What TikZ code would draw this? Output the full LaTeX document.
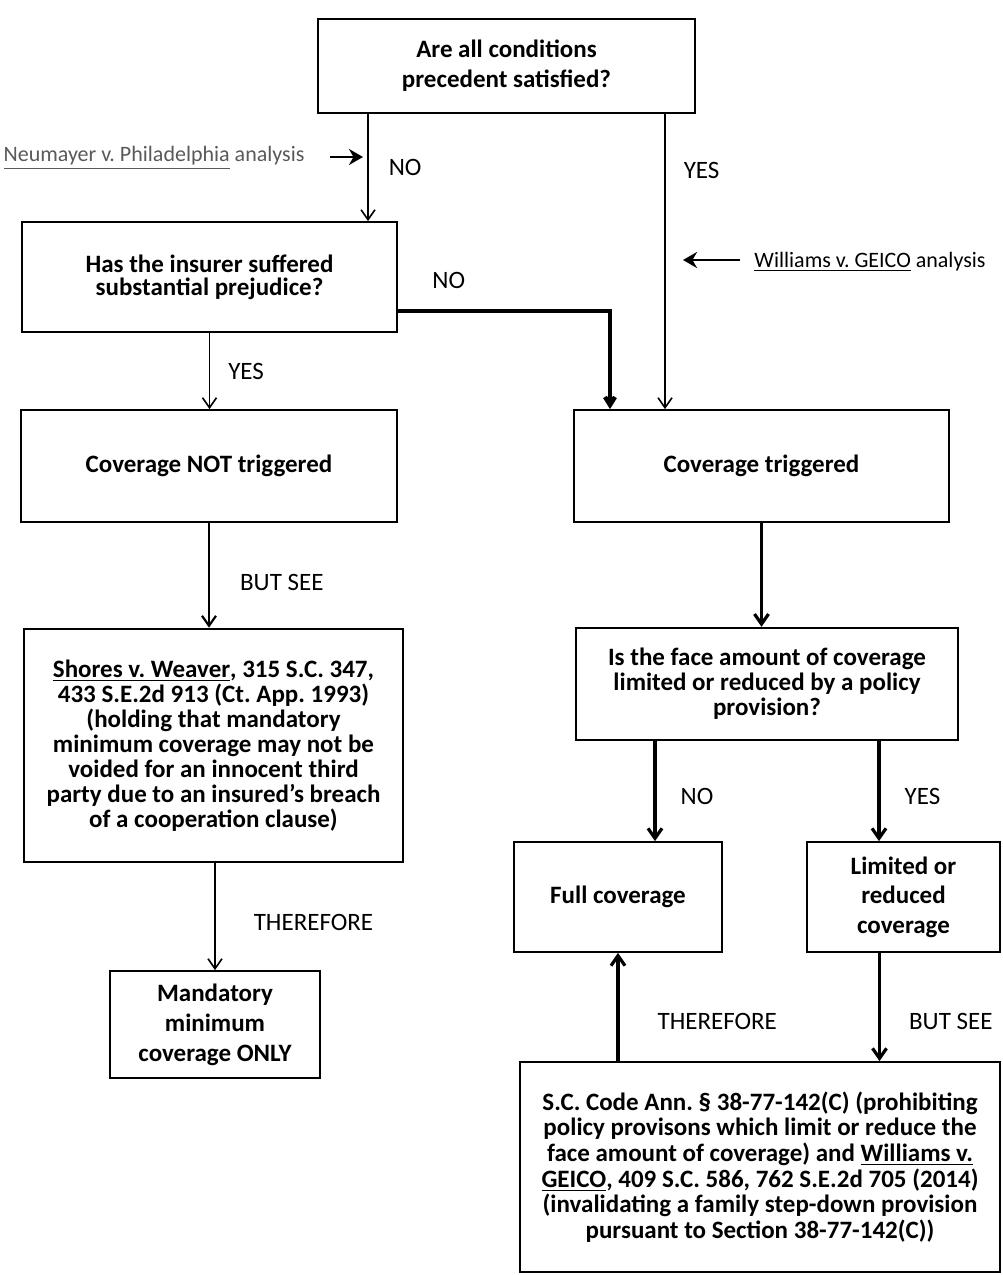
\documentclass[tikz,border=0pt]{standalone}
\usepackage{fontspec}
\setmainfont{Carlito}
\usetikzlibrary{arrows.meta}
\frenchspacing

\tikzset{
  box/.style={draw, line width=0.9pt, align=center, inner sep=2pt,
    font=\bfseries\fontsize{12.5}{13}\selectfont},
  lbl/.style={font=\fontsize{12.5}{14}\selectfont, inner sep=0pt},
  side/.style={font=\fontsize{11}{13}\selectfont, inner sep=0pt},
  thinarr/.style={line width=0.8pt, -{Straight Barb[length=5pt,width=7pt]}},
  medarr/.style={line width=1.1pt, -{Straight Barb[length=5pt,width=7pt]}},
  thickarr/.style={line width=1.6pt, -{Straight Barb[length=5pt,width=7pt]}},
  sidearr/.style={line width=1.4pt, -{Stealth[length=7pt,width=8pt]}},
}

\begin{document}
\begin{tikzpicture}[x=0.5pt, y=-0.5pt]
\useasboundingbox (0,0) rectangle (1002,1275);

% Boxes of the left column
\node[box, minimum width=188.5pt, minimum height=47pt,
  font=\bfseries\fontsize{12.5}{15}\selectfont] (cond) at (506.5,66)
  {Are all conditions\\precedent satisfied?};
\node[box, minimum width=187.5pt, minimum height=55pt,
  font=\bfseries\fontsize{12.5}{11.5}\selectfont] (prej) at (209.5,277)
  {Has the insurer suffered\\substantial prejudice?};
\node[box, minimum width=188pt, minimum height=56pt] (notrig) at (209,466)
  {Coverage NOT triggered};
\node[box, line width=1.3pt, minimum width=189.5pt, minimum height=116.5pt,
  font=\bfseries\fontsize{12.5}{12.5}\selectfont] (shores) at (213.5,745.5)
  {\underline{Shores v. Weaver}, 315 S.C. 347,\\
   433 S.E.2d 913 (Ct. App. 1993)\\
   (holding that mandatory\\
   minimum coverage may not be\\
   voided for an innocent third\\
   party due to an insured's breach\\
   of a cooperation clause)};
\node[box, minimum width=105pt, minimum height=53.5pt,
  font=\bfseries\fontsize{12.5}{15}\selectfont] (mand) at (215,1024.5)
  {Mandatory\\minimum\\coverage ONLY};

% Boxes of the right column
\node[box, minimum width=187.5pt, minimum height=56pt] (trig) at (761.5,466)
  {Coverage triggered};
\node[box, line width=1.2pt, minimum width=191pt, minimum height=56pt,
  font=\bfseries\fontsize{12.5}{12.5}\selectfont] (face) at (767,684)
  {Is the face amount of coverage\\limited or reduced by a policy\\provision?};
\node[box, minimum width=104pt, minimum height=55pt] (full) at (618,897)
  {Full coverage};
\node[box, minimum width=96.5pt, minimum height=55pt,
  font=\bfseries\fontsize{12.5}{14.7}\selectfont] (limited) at (903.5,897)
  {Limited or\\reduced\\coverage};
\node[box, minimum width=240pt, minimum height=105pt,
  font=\bfseries\fontsize{12.5}{12.8}\selectfont] (statute) at (760,1167)
  {S.C. Code Ann. \S\ 38-77-142(C) (prohibiting\\
   policy provisons which limit or reduce the\\
   face amount of coverage) and \underline{Williams v.}\\
   \underline{GEICO}, 409 S.C. 586, 762 S.E.2d 705 (2014)\\
   (invalidating a family step-down provision\\
   pursuant to Section 38-77-142(C))};

% Side notes
\node[side, text=black!65] (neu) at (154,158) {\underline{Neumayer v. Philadelphia} analysis};
\coordinate (neuA) at (330,157);
\coordinate (neuB) at (363,157);
\draw[sidearr] (neuA) -- (neuB);

\node[side] (wil) at (870,262) {\underline{Williams v. GEICO} analysis};
\coordinate (wilA) at (740,260);
\coordinate (wilB) at (683,260);
\draw[sidearr] (wilA) -- (wilB);

% Connectors
\draw[thinarr] ([xshift=-69.25pt]cond.south) -- node[lbl, right=10pt]{NO}
  ([xshift=-69.25pt]cond.south |- prej.north);
\draw[thinarr] ([xshift=79.25pt]cond.south) -- node[lbl, pos=0.19, right=9pt]{YES}
  ([xshift=79.25pt]cond.south |- trig.north);
\draw[line width=2.2pt, -{Straight Barb[length=4pt,width=5pt]}] ([yshift=-17pt]prej.east)
  -| node[lbl, pos=0.12, above=10pt]{NO} ([xshift=-75.75pt]trig.north);

\draw[thinarr] (prej.south) -- node[lbl, right=9pt]{YES} (prej.south |- notrig.north);
\draw[medarr] (notrig.south) -- node[lbl, pos=0.57, right=15pt]{BUT SEE}
  (notrig.south |- shores.north);
\draw[thinarr] (mand.north |- shores.south) -- node[lbl, pos=0.55, right=19pt]{THEREFORE}
  (mand.north);

\draw[thickarr] (trig.south) -- (trig.south |- face.north);
\draw[thickarr] ([xshift=-56pt]face.south) -- node[lbl, pos=0.55, right=12pt]{NO}
  ([xshift=-56pt]face.south |- full.north);
\draw[thickarr] ([xshift=56pt]face.south) -- node[lbl, pos=0.55, right=12pt]{YES}
  ([xshift=56pt]face.south |- limited.north);
\draw[thickarr] (full.south |- statute.north) -- node[lbl, pos=0.37, right=19pt]{THEREFORE}
  (full.south);
\draw[thickarr] ([xshift=-12pt]limited.south) -- node[lbl, pos=0.63, right=14pt]{BUT SEE}
  ([xshift=-12pt]limited.south |- statute.north);

\end{tikzpicture}
\end{document}
